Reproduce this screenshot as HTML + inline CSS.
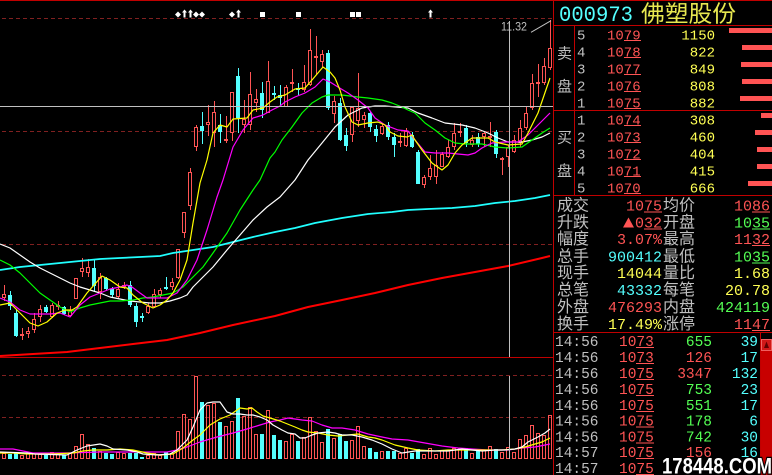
<!DOCTYPE html>
<html><head><meta charset="utf-8"><style>html,body{margin:0;padding:0;background:#000;width:772px;height:475px;overflow:hidden}svg{display:block}</style></head>
<body>
<svg width="772" height="475" viewBox="0 0 772 475" xmlns="http://www.w3.org/2000/svg">
<rect width="772" height="475" fill="#000"/>
<rect x="0" y="0" width="772" height="1" fill="#c00000"/>
<path d="M2 18.5H553M2 131.5H553M2 244.5H553M2 375.5H553M2 417.5H553" stroke="#802020" stroke-dasharray="4 3" fill="none"/>

<g shape-rendering="crispEdges">
<path fill="none" stroke="#ff5454" d="M4.5 285V301M22.5 328V340M28.5 327V338M34.5 313V333M40.5 305V322M52.5 303V318M58.5 301V310M70.5 306V317M76.5 278V299M82.5 258V277M88.5 259V277M100.5 273V299M118.5 283V298M124.5 282V289M148.5 303V314M154.5 289V308M160.5 288V298M172.5 278V290M178.5 249V279M184.5 212V238M190.5 168V210M196.5 125V151M208.5 105V136M214.5 101V147M226.5 116V143M232.5 92V141M244.5 100V133M250.5 72V130M256.5 89V112M268.5 61V113M286.5 85V107M292.5 69V92M304.5 65V92M310.5 29V86M316.5 36V75M322.5 50V67M334.5 96V123M352.5 106V142M358.5 73V127M364.5 112V128M382.5 123V135M400.5 133V147M406.5 128V147M424.5 175V188M430.5 155V180M436.5 150V184M442.5 152V167M448.5 140V158M454.5 123V150M460.5 123V137M472.5 135V147M484.5 132V147M490.5 122V147M502.5 157V175M508.5 145V167M514.5 135V153M520.5 120V147M526.5 107V130M532.5 74V110M538.5 64V97M544.5 58V85M550.5 20V70"/>
<path fill="#000" stroke="#ff5454" d="M2.5 294.5h3V297.5h-3zM20.5 334.5h3V335.5h-3zM26.5 331.5h3V333.5h-3zM32.5 319.5h3V329.5h-3zM38.5 309.5h3V316.5h-3zM50.5 305.5h3V316.5h-3zM56.5 305.5h3V306.5h-3zM68.5 310.5h3V315.5h-3zM74.5 278.5h3V298.5h-3zM80.5 268.5h3V271.5h-3zM86.5 267.5h3V272.5h-3zM98.5 277.5h3V291.5h-3zM116.5 289.5h3V296.5h-3zM122.5 285.5h3V286.5h-3zM146.5 306.5h3V312.5h-3zM152.5 294.5h3V306.5h-3zM158.5 290.5h3V294.5h-3zM170.5 282.5h3V286.5h-3zM176.5 249.5h3V277.5h-3zM182.5 212.5h3V232.5h-3zM188.5 172.5h3V205.5h-3zM194.5 127.5h3V146.5h-3zM206.5 122.5h3V124.5h-3zM212.5 112.5h3V132.5h-3zM224.5 139.5h3V140.5h-3zM230.5 92.5h3V132.5h-3zM242.5 119.5h3V124.5h-3zM248.5 94.5h3V124.5h-3zM254.5 99.5h3V102.5h-3zM266.5 81.5h3V112.5h-3zM284.5 87.5h3V106.5h-3zM290.5 82.5h3V83.5h-3zM302.5 82.5h3V89.5h-3zM308.5 50.5h3V84.5h-3zM314.5 56.5h3V57.5h-3zM320.5 54.5h3V61.5h-3zM332.5 101.5h3V113.5h-3zM350.5 107.5h3V134.5h-3zM356.5 108.5h3V120.5h-3zM362.5 115.5h3V119.5h-3zM380.5 126.5h3V133.5h-3zM398.5 141.5h3V142.5h-3zM404.5 131.5h3V145.5h-3zM422.5 177.5h3V184.5h-3zM428.5 168.5h3V176.5h-3zM434.5 165.5h3V176.5h-3zM440.5 154.5h3V166.5h-3zM446.5 147.5h3V156.5h-3zM452.5 133.5h3V146.5h-3zM458.5 131.5h3V132.5h-3zM470.5 140.5h3V144.5h-3zM482.5 133.5h3V136.5h-3zM488.5 136.5h3V137.5h-3zM500.5 158.5h3V159.5h-3zM506.5 147.5h3V156.5h-3zM512.5 140.5h3V151.5h-3zM518.5 128.5h3V142.5h-3zM524.5 113.5h3V127.5h-3zM530.5 83.5h3V107.5h-3zM536.5 82.5h3V83.5h-3zM542.5 66.5h3V82.5h-3zM548.5 48.5h3V67.5h-3z"/>
<path fill="none" stroke="#54ffff" d="M10.5 291V310M16.5 310V337M46.5 305V313M64.5 306V315M94.5 260V292M106.5 277V290M112.5 287V298M130.5 281V307M136.5 303V327M142.5 313V322M166.5 277V290M202.5 112V144M220.5 114V143M238.5 68V133M262.5 82V118M274.5 86V100M280.5 85V107M298.5 83V95M328.5 50V110M340.5 98V141M346.5 128V151M370.5 112V132M376.5 125V142M388.5 122V140M394.5 133V157M412.5 132V148M418.5 150V184M466.5 125V147M478.5 133V147M496.5 130V158"/>
<path fill="#54ffff" d="M8 295h4V306h-4zM14 313h4V336h-4zM44 307h4V312h-4zM62 307h4V314h-4zM92 268h4V286h-4zM104 278h4V289h-4zM110 289h4V295h-4zM128 285h4V305h-4zM134 306h4V322h-4zM140 316h4V318h-4zM164 287h4V289h-4zM200 126h4V131h-4zM218 125h4V132h-4zM236 76h4V118h-4zM260 93h4V110h-4zM272 93h4V95h-4zM278 95h4V98h-4zM296 88h4V90h-4zM326 53h4V108h-4zM338 103h4V140h-4zM344 135h4V146h-4zM368 113h4V127h-4zM374 129h4V136h-4zM386 125h4V137h-4zM392 137h4V145h-4zM410 135h4V147h-4zM416 152h4V184h-4zM464 128h4V143h-4zM476 137h4V144h-4zM494 132h4V154h-4z"/>
<!-- volume -->
<path fill="none" stroke="#ff5454" d="M2.5 453.5h3V458.5h-3zM20.5 455.5h3V458.5h-3zM26.5 453.5h3V458.5h-3zM32.5 453.5h3V458.5h-3zM38.5 454.5h3V458.5h-3zM50.5 452.5h3V458.5h-3zM56.5 453.5h3V458.5h-3zM68.5 453.5h3V458.5h-3zM74.5 446.5h3V458.5h-3zM80.5 434.5h3V458.5h-3zM86.5 444.5h3V458.5h-3zM98.5 451.5h3V458.5h-3zM116.5 452.5h3V458.5h-3zM122.5 453.5h3V458.5h-3zM146.5 455.5h3V458.5h-3zM152.5 453.5h3V458.5h-3zM158.5 455.5h3V458.5h-3zM170.5 453.5h3V458.5h-3zM176.5 431.5h3V458.5h-3zM182.5 414.5h3V458.5h-3zM188.5 419.5h3V458.5h-3zM194.5 376.5h3V458.5h-3zM206.5 405.5h3V458.5h-3zM212.5 403.5h3V458.5h-3zM224.5 426.5h3V458.5h-3zM230.5 421.5h3V458.5h-3zM242.5 416.5h3V458.5h-3zM248.5 407.5h3V458.5h-3zM254.5 434.5h3V458.5h-3zM266.5 410.5h3V458.5h-3zM284.5 441.5h3V458.5h-3zM290.5 434.5h3V458.5h-3zM302.5 437.5h3V458.5h-3zM308.5 417.5h3V458.5h-3zM314.5 431.5h3V458.5h-3zM320.5 442.5h3V458.5h-3zM332.5 438.5h3V458.5h-3zM350.5 440.5h3V458.5h-3zM356.5 426.5h3V458.5h-3zM362.5 446.5h3V458.5h-3zM380.5 451.5h3V458.5h-3zM398.5 453.5h3V458.5h-3zM404.5 448.5h3V458.5h-3zM422.5 454.5h3V458.5h-3zM428.5 448.5h3V458.5h-3zM434.5 454.5h3V458.5h-3zM440.5 450.5h3V458.5h-3zM446.5 450.5h3V458.5h-3zM452.5 448.5h3V458.5h-3zM458.5 448.5h3V458.5h-3zM470.5 453.5h3V458.5h-3zM482.5 450.5h3V458.5h-3zM488.5 446.5h3V458.5h-3zM500.5 452.5h3V458.5h-3zM506.5 447.5h3V458.5h-3zM512.5 452.5h3V458.5h-3zM518.5 439.5h3V458.5h-3zM524.5 435.5h3V458.5h-3zM530.5 425.5h3V458.5h-3zM536.5 433.5h3V458.5h-3zM542.5 435.5h3V458.5h-3zM548.5 415.5h3V458.5h-3z"/>
<path fill="#54ffff" d="M8 454h4V459h-4zM14 453h4V459h-4zM44 455h4V459h-4zM62 455h4V459h-4zM92 448h4V459h-4zM104 453h4V459h-4zM110 454h4V459h-4zM128 453h4V459h-4zM134 453h4V459h-4zM140 457h4V459h-4zM164 452h4V459h-4zM200 402h4V459h-4zM218 422h4V459h-4zM236 398h4V459h-4zM260 434h4V459h-4zM272 435h4V459h-4zM278 440h4V459h-4zM296 441h4V459h-4zM326 429h4V459h-4zM338 434h4V459h-4zM344 441h4V459h-4zM368 448h4V459h-4zM374 452h4V459h-4zM386 451h4V459h-4zM392 451h4V459h-4zM410 453h4V459h-4zM416 449h4V459h-4zM464 448h4V459h-4zM476 451h4V459h-4zM494 449h4V459h-4z"/>
</g>

<g fill="none" stroke-linejoin="round">
<polyline stroke="#ff0000" stroke-width="2" points="0,356 33,354 67,352 100,348 133,344 167,340 200,333 233,325 275,316 308,307 342,300 375,293 408,285 442,278 475,272 508,266 542,258 550,256"/>
<polyline stroke="#20ffff" stroke-width="1.7" points="0,270 20,267 40,265 60,263 80,261 100,259 120,258 140,257 160,256 173,253 193,250 213,247 233,242 253,237 275,232 295,228 315,223 342,218 368,214 392,212 408,210 428,209 452,208 475,206 495,203 515,201 535,198 550,195"/>
<polyline stroke="#ffffff" stroke-width="1.2" points="0,244 10,248 20,255 30,262 40,268 50,273 60,278 70,283 80,287 90,290 100,293 110,297 120,299 130,301 140,302 150,303 160,303 170,301 180,298 187,295 193,287 203,277 213,267 227,250 240,235 253,220 267,207 280,197 295,180 308,160 322,143 335,127 348,115 362,108 375,106 385,106 408,108 418,113 432,118 445,123 462,125 475,128 488,133 498,138 508,142 522,142 532,140 542,137 550,133"/>
<polyline stroke="#00ff00" stroke-width="1.2" points="0,260 10,265 20,273 30,283 40,293 50,300 60,307 70,312 80,308 90,305 100,303 110,301 120,301 133,300 143,298 153,297 163,295 173,293 183,287 193,277 203,267 213,253 227,233 240,210 253,190 260,180 270,158 275,152 282,140 292,127 302,113 312,103 322,97 328,95 342,95 358,97 368,98 382,100 392,103 402,107 408,110 415,113 425,123 435,130 445,138 455,143 465,144 482,144 495,147 508,148 522,147 532,140 542,133 550,128"/>
<polyline stroke="#ff00ff" stroke-width="1.2" points="0,298 10,302 20,310 30,314 50,314 60,313 70,317 80,305 90,297 100,293 110,289 120,287 127,285 132,287 140,293 147,298 157,298 167,298 177,293 187,280 197,260 207,230 217,197 223,180 233,147 243,130 253,118 263,115 272,110 280,106 285,102 295,97 305,93 315,87 323,79 330,82 338,87 348,93 358,100 368,108 375,118 385,125 398,130 408,131 415,140 425,152 435,153 448,153 458,154 468,155 475,153 482,148 492,143 505,142 518,142 528,135 538,125 550,113"/>
<polyline stroke="#ffff00" stroke-width="1.2" points="0,305 10,303 20,313 30,323 38,326 47,322 57,313 65,310 72,310 77,307 87,293 102,276 110,280 120,287 127,288 133,295 143,303 153,308 160,305 167,300 173,293 180,280 187,260 193,223 200,183 207,160 213,133 220,125 227,127 233,119 247,118 253,110 263,108 270,102 277,97 285,95 295,89 305,88 312,80 323,67 330,72 335,78 340,90 345,107 352,122 358,125 368,123 378,122 385,125 390,132 398,136 407,137 412,135 415,140 422,150 432,163 442,170 448,165 455,153 462,145 472,138 488,138 495,142 508,145 522,144 528,133 538,113 550,78"/>
<polyline stroke="#ff00ff" stroke-width="1.2" points="0,449 13,449 23,451 33,453 67,453 100,452 133,452 167,452 177,450 187,447 200,442 217,437 233,433 247,429 260,425 270,422 280,420 288,418 302,420 312,421 322,425 332,428 342,428 355,430 368,434 382,437 392,439 408,440 425,443 442,446 458,448 472,449 488,450 508,450 522,448 535,447 550,444"/>
<polyline stroke="#ffff00" stroke-width="1.2" points="0,453 13,453 27,454 40,454 53,454 73,453 83,451 93,450 107,450 120,449 133,450 147,453 160,455 173,454 183,448 193,440 200,435 210,425 220,419 230,415 237,410 240,408 247,409 252,408 257,412 263,416 270,418 280,421 285,423 295,427 302,430 308,432 318,433 328,435 338,436 348,435 358,434 368,437 375,438 382,440 395,445 408,448 418,450 435,451 448,450 462,450 475,450 488,450 502,450 515,449 525,447 535,444 542,442 550,438"/>
<polyline stroke="#ffffff" stroke-width="1.2" points="0,452 27,453 35,454 67,455 77,450 87,446 100,444 107,446 113,449 127,450 137,452 143,454 157,455 170,454 177,450 187,440 193,427 200,410 207,403 213,402 220,402 227,412 233,414 240,414 247,415 253,415 260,417 267,420 273,425 282,430 288,433 295,434 300,438 305,438 312,435 318,433 328,432 335,433 342,435 352,435 362,437 372,440 382,444 392,449 402,453 415,451 425,451 435,451 448,451 462,449 472,450 482,451 495,450 505,450 515,449 522,447 528,442 538,437 545,433 550,429"/>
</g>

<!-- crosshair -->
<path d="M0 106.5H553M509.5 21V357M509.5 376V459" stroke="#c0c0c0" fill="none" shape-rendering="crispEdges"/>
<text x="501" y="30.7" font-family="Liberation Sans, sans-serif" font-size="12" fill="#c0c0c0" textLength="26" lengthAdjust="spacingAndGlyphs">11.32</text>
<line x1="531" y1="32.3" x2="551" y2="20.7" stroke="#c0c0c0"/>

<!-- markers -->
<g fill="#ffffff">
<path d="M178 11.5l3 3-3 3-3-3zM196 11.5l3 3-3 3-3-3zM202 11.5l3 3-3 3-3-3zM232 11.5l3 3-3 3-3-3z"/>
<path d="M184.5 9.5l2.5 3h-1.5v5h-2v-5h-1.5zM190.5 9.5l2.5 3h-1.5v5h-2v-5h-1.5zM238.5 9.5l2.5 3h-1.5v5h-2v-5h-1.5zM430.5 9.5l2.5 3h-1.5v5h-2v-5h-1.5z"/>
<path d="M260 12h5v5h-5zM296 12h5v5h-5zM350 12h5v5h-5zM356 12h5v5h-5z"/>
</g>

<!-- panel lines -->
<g fill="#c00000" shape-rendering="crispEdges">
<rect x="0" y="357" width="553" height="1"/>
<rect x="553" y="0" width="1" height="475"/>
<rect x="553" y="25" width="219" height="1"/>
<rect x="574" y="25" width="1" height="170"/>
<rect x="553" y="110" width="219" height="1"/>
<rect x="553" y="195" width="219" height="1"/>
<rect x="553" y="332" width="219" height="1"/>
<rect x="760" y="332" width="1" height="143"/>
<rect x="761" y="339" width="11" height="136" fill="#c80000"/>
<rect x="761.5" y="339.5" width="10" height="11" fill="#d01818" stroke="#f06060"/>
</g>
<path d="M766.5 341.5L769 348H764Z" fill="#600000"/>

<!-- header -->
<text x="559" y="21" font-family="Liberation Mono, monospace" font-size="22" fill="#54ffff" textLength="74" lengthAdjust="spacingAndGlyphs">000973</text>
<text x="641" y="21.5" font-family="Liberation Sans, Noto Sans CJK SC, sans-serif" font-size="23" fill="#e8e850" textLength="95" lengthAdjust="spacingAndGlyphs">佛塑股份</text>

<!-- order book -->
<g font-family="Liberation Sans, Noto Sans CJK SC, sans-serif" font-size="15" fill="#c0c0c0">
<text x="557" y="58.5">卖</text><text x="557" y="91.5">盘</text>
<text x="557" y="142.5">买</text><text x="557" y="176">盘</text>
</g>
<g font-family="Liberation Mono, monospace" font-size="14">
<g fill="#c0c0c0">
<text x="577" y="39.5">5</text><text x="577" y="56.5">4</text><text x="577" y="73.5">3</text><text x="577" y="90.5">2</text><text x="577" y="107.5">1</text>
<text x="577" y="124.5">1</text><text x="577" y="141.5">2</text><text x="577" y="158.5">3</text><text x="577" y="175.5">4</text><text x="577" y="192.5">5</text>
</g>
<g fill="#ff5454">
<text x="607" y="39.5">1079</text><text x="607" y="56.5">1078</text><text x="607" y="73.5">1077</text><text x="607" y="90.5">1076</text><text x="607" y="107.5">1075</text>
<text x="607" y="124.5">1074</text><text x="607" y="141.5">1073</text><text x="607" y="158.5">1072</text><text x="607" y="175.5">1071</text><text x="607" y="192.5">1070</text>
</g>
<g fill="#ffff54" text-anchor="end">
<text x="715" y="39.5">1150</text><text x="715" y="56.5">822</text><text x="715" y="73.5">849</text><text x="715" y="90.5">808</text><text x="715" y="107.5">882</text>
<text x="715" y="124.5">308</text><text x="715" y="141.5">460</text><text x="715" y="158.5">404</text><text x="715" y="175.5">415</text><text x="715" y="192.5">666</text>
</g>
</g>
<g fill="#ff5454" shape-rendering="crispEdges">
<rect x="624" y="40" width="17" height="1"/><rect x="624" y="57" width="17" height="1"/><rect x="624" y="74" width="17" height="1"/><rect x="624" y="91" width="17" height="1"/><rect x="624" y="108" width="17" height="1"/>
<rect x="624" y="125" width="17" height="1"/><rect x="624" y="142" width="17" height="1"/><rect x="624" y="159" width="17" height="1"/><rect x="624" y="176" width="17" height="1"/><rect x="624" y="193" width="17" height="1"/>
<rect x="729" y="28" width="43" height="5"/><rect x="742" y="45" width="30" height="5"/><rect x="741" y="62" width="31" height="5"/><rect x="742" y="79" width="30" height="5"/><rect x="740" y="96" width="32" height="5"/>
<rect x="761" y="113" width="11" height="5"/><rect x="755" y="130" width="17" height="5"/><rect x="757" y="147" width="15" height="5"/><rect x="757" y="164" width="15" height="5"/><rect x="748" y="181" width="24" height="5"/>
</g>

<!-- info -->
<g font-family="Liberation Sans, Noto Sans CJK SC, sans-serif" font-size="16" fill="#c0c0c0">
<text x="557" y="210.5">成交</text><text x="557" y="227.5">升跌</text><text x="557" y="244">幅度</text><text x="557" y="261.5">总手</text><text x="557" y="278">现手</text><text x="557" y="295">总笔</text><text x="557" y="312">外盘</text><text x="557" y="329">换手</text>
<text x="663" y="210.5">均价</text><text x="663" y="227.5">开盘</text><text x="663" y="244">最高</text><text x="663" y="261.5">最低</text><text x="663" y="278">量比</text><text x="663" y="295">每笔</text><text x="663" y="312">内盘</text><text x="663" y="329">涨停</text>
</g>
<g font-family="Liberation Mono, monospace" font-size="15" text-anchor="end">
<text x="662" y="210.5" fill="#ff5454">1075</text>
<text x="662" y="227.5" fill="#ff5454">032</text>
<text x="662" y="244" fill="#ff5454">3.07%</text>
<text x="662" y="261.5" fill="#54ffff">900412</text>
<text x="662" y="278" fill="#ffff54">14044</text>
<text x="662" y="295" fill="#54ffff">43332</text>
<text x="662" y="312" fill="#ff5454">476293</text>
<text x="662" y="329" fill="#ffff54">17.49%</text>
<text x="770" y="210.5" fill="#ff5454">1086</text>
<text x="770" y="227.5" fill="#54ff54">1035</text>
<text x="770" y="244" fill="#ff5454">1132</text>
<text x="770" y="261.5" fill="#54ff54">1035</text>
<text x="770" y="278" fill="#ffff54">1.68</text>
<text x="770" y="295" fill="#ffff54">20.78</text>
<text x="770" y="312" fill="#54ff54">424119</text>
<text x="770" y="329" fill="#ff5454">1147</text>
</g>
<path d="M623 227.5H634L628.5 217.5Z" fill="#ff5454"/>
<g shape-rendering="crispEdges">
<rect x="644" y="211.5" width="18" height="1" fill="#ff5454"/>
<rect x="644" y="228.5" width="18" height="1" fill="#ff5454"/>
<rect x="752" y="211.5" width="18" height="1" fill="#ff5454"/>
<rect x="752" y="228.5" width="18" height="1" fill="#54ff54"/>
<rect x="752" y="245" width="18" height="1" fill="#ff5454"/>
<rect x="752" y="262.5" width="18" height="1" fill="#54ff54"/>
<rect x="752" y="330" width="18" height="1" fill="#ff5454"/>
</g>

<!-- ticks -->
<g font-family="Liberation Mono, monospace" font-size="14.5">
<g fill="#c0c0c0">
<text x="555" y="346">14:56</text><text x="555" y="362">14:56</text><text x="555" y="378">14:56</text><text x="555" y="394">14:56</text><text x="555" y="410">14:56</text><text x="555" y="425.5">14:56</text><text x="555" y="441.5">14:56</text><text x="555" y="457">14:57</text><text x="555" y="473">14:57</text>
</g>
<g fill="#ff5454">
<text x="619" y="346">1073</text><text x="619" y="362">1073</text><text x="619" y="378">1075</text><text x="619" y="394">1075</text><text x="619" y="410">1075</text><text x="619" y="425.5">1075</text><text x="619" y="441.5">1075</text><text x="619" y="457">1075</text><text x="619" y="473">1075</text>
</g>
<g text-anchor="end">
<text x="712" y="346" fill="#54ff54">655</text><text x="712" y="362" fill="#ff5454">126</text><text x="712" y="378" fill="#ff5454">3347</text><text x="712" y="394" fill="#54ff54">753</text><text x="712" y="410" fill="#54ff54">551</text><text x="712" y="425.5" fill="#54ff54">178</text><text x="712" y="441.5" fill="#54ff54">742</text><text x="712" y="457" fill="#ff5454">156</text>
<g fill="#54ffff">
<text x="758" y="346">39</text><text x="758" y="362">17</text><text x="758" y="378">132</text><text x="758" y="394">23</text><text x="758" y="410">17</text><text x="758" y="425.5">6</text><text x="758" y="441.5">30</text><text x="758" y="457">16</text>
</g>
</g>
</g>
<g fill="#ff5454" shape-rendering="crispEdges">
<rect x="636" y="347" width="18" height="1"/><rect x="636" y="363" width="18" height="1"/><rect x="636" y="379" width="18" height="1"/><rect x="636" y="395" width="18" height="1"/><rect x="636" y="411" width="18" height="1"/><rect x="636" y="426.5" width="18" height="1"/><rect x="636" y="442.5" width="18" height="1"/><rect x="636" y="458" width="18" height="1"/><rect x="636" y="474" width="18" height="1"/>
</g>

<!-- watermark -->
<text x="662" y="473.5" font-family="Liberation Sans, sans-serif" font-weight="bold" font-size="22" fill="#ffffff" stroke="#000" stroke-width="2.5" paint-order="stroke" textLength="110" lengthAdjust="spacingAndGlyphs">178448.COM</text>
</svg>
</body></html>
